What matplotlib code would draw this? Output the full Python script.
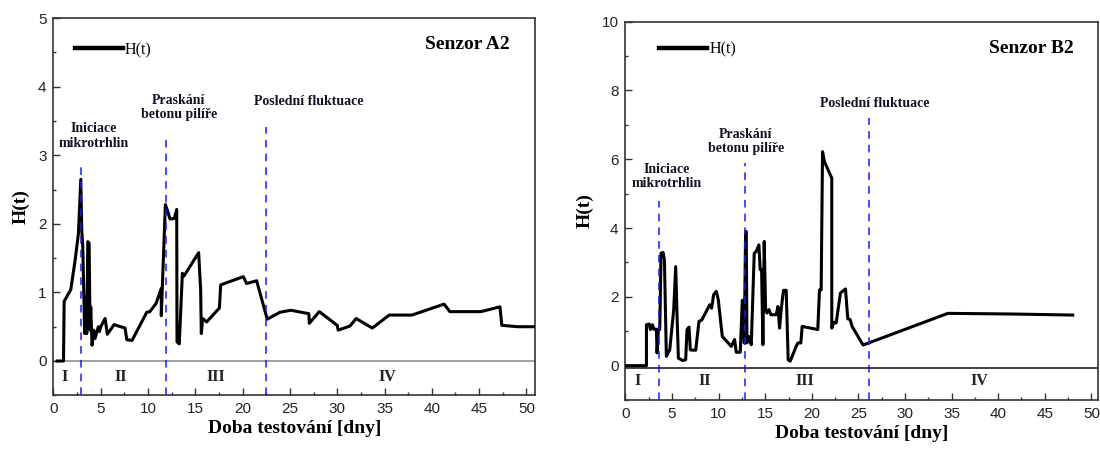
# import packages
import numpy as np
import matplotlib.pyplot as plt
from matplotlib.ticker import MultipleLocator

# fonts: serif (Times-like) for labels, sans (Arial-like) for tick numbers
serif = 'Liberation Serif'
sans = 'Liberation Sans'

# ---- Senzor A2 ----
# testing time [days] and entropy-like value H(t)
a2_t = [0.4, 1.06, 1.13, 1.83, 2.29, 2.64, 2.89, 2.99, 3.1, 3.3, 3.45, 3.52, 3.63, 3.77,
        3.87, 3.94, 4.08, 4.26, 4.4, 4.75, 4.86, 5.0, 5.46, 5.7, 6.4, 7.57, 7.75, 8.31,
        9.86, 10.2, 10.85, 11.4, 11.4, 11.5, 11.83, 12.04, 12.32, 12.78, 13.03, 13.06,
        13.3, 13.63, 13.8, 15.35, 15.56, 15.63, 15.77, 16.2, 17.32, 17.54, 17.68, 20.07,
        20.42, 21.48, 22.6, 23.94, 25.1, 27.0, 27.05, 28.1, 30.0, 30.1, 31.35, 32.0,
        33.7, 35.5, 37.9, 41.3, 41.9, 45.2, 47.2, 47.4, 49.1, 50.9]
a2_h = [0.0, 0.0, 0.87, 1.04, 1.47, 1.86, 2.65, 1.91, 1.67, 0.4, 0.94, 0.4, 1.74, 1.72,
        0.45, 0.79, 0.23, 0.45, 0.33, 0.5, 0.43, 0.5, 0.62, 0.39, 0.53, 0.48, 0.31, 0.3,
        0.71, 0.72, 0.84, 1.06, 0.66, 1.04, 2.28, 2.2, 2.07, 2.08, 2.21, 0.28,
        0.25, 1.28, 1.24, 1.58, 1.04, 0.4, 0.62, 0.57, 0.74, 0.77, 1.11, 1.23,
        1.13, 1.17, 0.61, 0.71, 0.74, 0.69, 0.55, 0.72, 0.52, 0.45, 0.51, 0.62,
        0.48, 0.67, 0.67, 0.83, 0.72, 0.72, 0.79, 0.52, 0.5, 0.5]

# phase boundaries (blue dashed lines) and their heights
a2_marks = [2.9, 11.87, 22.5]
a2_marks_top = [2.86, 3.27, 3.42]

# ---- Senzor B2 ----
b2_t = [0.0, 2.25, 2.25, 2.54, 2.68, 2.89, 3.04, 3.32, 3.39, 3.54, 3.68, 3.82, 4.04, 4.18,
        4.39, 4.75, 5.18, 5.39, 5.54, 5.68, 6.11, 6.46, 6.61, 6.82, 6.96, 7.25, 7.54,
        7.89, 8.18, 9.04, 9.25, 9.46, 9.75, 9.96, 10.39, 11.36, 11.71, 11.89, 12.32,
        12.54, 12.68, 12.75, 12.89, 12.96, 13.04, 13.25, 13.5, 13.82, 14.04, 14.32,
        14.46, 14.61, 14.75, 14.89, 15.04, 15.18, 15.39, 15.61, 16.18, 16.36, 16.54,
        16.71, 16.96, 17.25, 17.46, 17.68, 18.32, 18.5, 18.82, 18.96, 20.64, 20.82,
        21.0, 21.15, 21.35, 22.14, 22.14, 22.39, 22.61, 23.07, 23.61, 23.86, 24.11,
        24.32, 25.5, 26.1, 34.6, 41.7, 48.0]
b2_h = [0.0, 0.0, 1.19, 1.21, 1.05, 1.19, 1.06, 1.06, 0.37, 1.06, 1.05, 3.27, 3.29, 3.08,
        0.27, 0.46, 1.63, 2.88, 1.43, 0.22, 0.15, 0.17, 1.05, 1.12, 0.46, 0.45, 0.45,
        1.29, 1.32, 1.77, 1.67, 2.06, 2.16, 1.92, 0.85, 0.56, 0.76, 0.39, 0.39,
        1.9, 1.63, 0.66, 3.9, 3.9, 0.66, 0.85, 0.61, 3.27, 3.32, 3.51,
        2.79, 2.79, 0.61, 3.61, 1.63, 1.53, 1.63, 1.48, 1.48, 1.72, 1.09,
        1.63, 2.19, 2.19, 0.17, 0.13, 0.56, 0.66, 0.66, 1.14, 1.05, 2.2,
        2.2, 6.22, 5.93, 5.45, 1.09, 1.26, 1.24, 2.11, 2.23, 1.36, 1.34,
        1.14, 0.6, 0.66, 1.52, 1.5, 1.47]

b2_marks = [3.57, 12.88, 26.1]
b2_marks_top = [4.78, 5.9, 7.2]

# shared annotation texts
phase_names = ['I', 'II', 'III', 'IV']
event_names = ['Iniciace\nmikrotrhlin', 'Praskání\nbetonu pilíře', 'Poslední fluktuace']

# per-panel settings: data, limits, text positions (data coords)
panels = [
    dict(ax_rect=[0.0486, 0.1216, 0.4377, 0.838], t=a2_t, h=a2_h,
         marks=a2_marks, marks_top=a2_marks_top, xlim=(0, 50.9), ylim=(-0.5, 5),
         ymajor=1, yminor=0.5, zero_color='#999999', zero_y=0.0,
         phase_x=[1.2, 7.1, 17.2, 35.3], phase_y=-0.23,
         event_xy=[(4.3, 3.28), (13.25, 3.70), (27.0, 3.79)],
         title='Senzor A2', leg_anchor=(0.044, 0.937)),
    dict(ax_rect=[0.5686, 0.111, 0.4295, 0.841], t=b2_t, h=b2_h,
         marks=b2_marks, marks_top=b2_marks_top, xlim=(0, 50.7), ylim=(-1, 10),
         ymajor=2, yminor=1, zero_color='#333333', zero_y=-0.08,
         phase_x=[1.27, 8.5, 19.2, 38.0], phase_y=-0.46,
         event_xy=[(4.45, 5.5), (12.9, 6.52), (26.7, 7.63)],
         title='Senzor B2', leg_anchor=(0.071, 0.947)),
]

fig = plt.figure(figsize=(11, 4.5), dpi=100)

for p in panels:
    ax = fig.add_axes(p['ax_rect'])

    # zero reference line and H(t) curve
    ax.axhline(p['zero_y'], color=p['zero_color'], lw=1.3, zorder=1)
    ax.plot(p['t'], p['h'], color='black', lw=2.2, label='H(t)', zorder=3)

    # blue dashed phase boundaries
    for xm, top in zip(p['marks'], p['marks_top']):
        ax.plot([xm, xm], [p['ylim'][0], top], color='#1a1aff', lw=1.1,
                dashes=(5, 4), zorder=4)

    # event labels above the dashed lines
    for (ex, ey), name in zip(p['event_xy'], event_names):
        ax.text(ex, ey, name, family=serif, fontweight='bold', fontsize=10,
                ha='center', va='center', multialignment='center',
                color='#111122', linespacing=1.15)

    # phase numbers below zero
    for px, name in zip(p['phase_x'], phase_names):
        ax.text(px, p['phase_y'], name, family=serif, fontweight='bold',
                fontsize=11.5, ha='center', va='center', color='#222222')

    # sensor name in top right corner
    ax.text(0.86, 0.93, p['title'], transform=ax.transAxes, family=serif,
            fontweight='bold', fontsize=14, ha='center', va='center')

    # legend, no frame
    leg = ax.legend(loc='upper left', bbox_to_anchor=p['leg_anchor'], frameon=False,
                    borderpad=0, borderaxespad=0, handlelength=3.0, handletextpad=0.15,
                    prop={'family': serif, 'size': 11.5})
    leg.get_lines()[0].set_linewidth(3.2)

    # limits, ticks
    ax.set_xlim(p['xlim'])
    ax.set_ylim(p['ylim'])
    ax.xaxis.set_major_locator(MultipleLocator(5))
    ax.xaxis.set_minor_locator(MultipleLocator(2.5))
    ax.set_yticks(np.arange(0, p['ylim'][1] + 0.01, p['ymajor']))
    ax.yaxis.set_minor_locator(MultipleLocator(p['yminor']))
    ax.tick_params(which='both', direction='in', top=False, right=False, color='#333333')
    ax.tick_params(which='major', length=5, width=1, labelsize=11, pad=5)
    ax.tick_params(which='minor', length=2.5, width=1)
    for lab in ax.get_xticklabels() + ax.get_yticklabels():
        lab.set_family(sans)
        lab.set_color('#222222')
    for sp in ax.spines.values():
        sp.set_linewidth(1.2)
        sp.set_color('#333333')

    # axis labels
    ax.set_xlabel('Doba testování [dny]', family=serif, fontweight='bold',
                  fontsize=14, labelpad=3)
    ax.set_ylabel('H(t)', family=serif, fontweight='bold', fontsize=14, labelpad=6)

fig.savefig('out.png', dpi=100)
